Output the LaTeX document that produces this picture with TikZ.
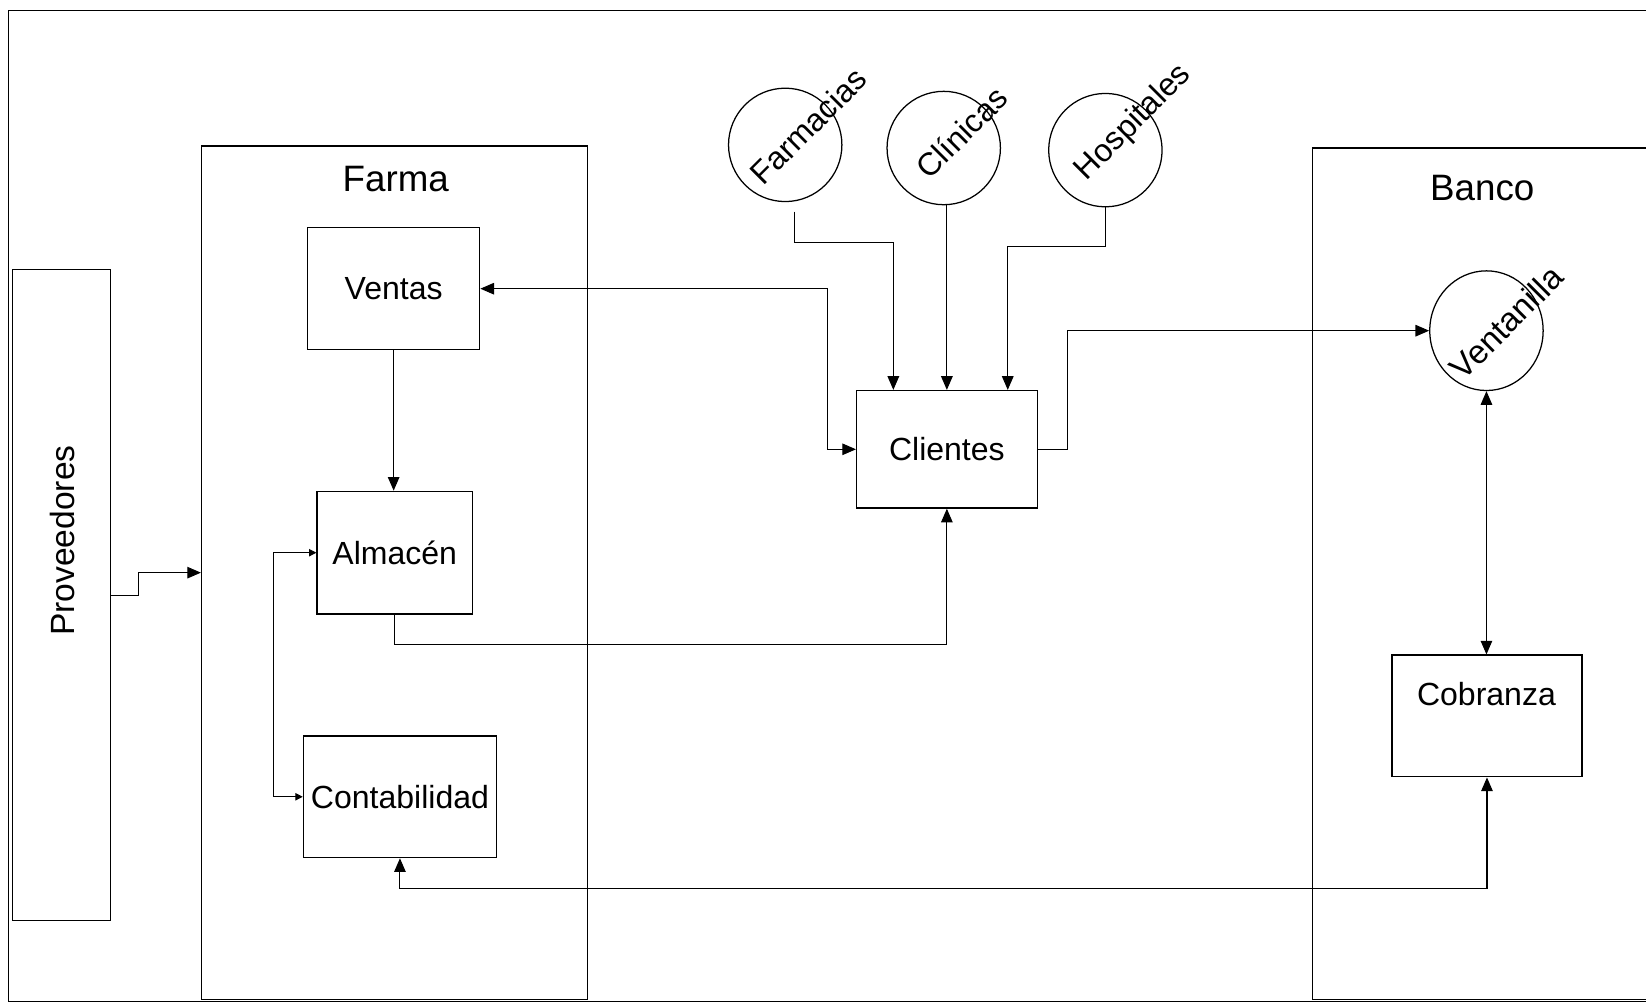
\documentclass[tikz,border=0pt]{standalone}
\usepackage{fontspec}
\setmainfont{Liberation Sans}
\usetikzlibrary{arrows.meta,shapes.geometric}
\begin{document}
\begin{tikzpicture}[x=0.5pt,y=-0.5pt,
  box/.style={draw, line width=0.6pt, inner sep=0pt, rectangle},
  circ/.style={draw, line width=0.6pt, circle, inner sep=0pt, minimum size=54pt},
  lbl/.style={font=\fontsize{15.25}{18}\selectfont, inner sep=0pt},
  big/.style={font=\fontsize{17.5}{20}\selectfont, inner sep=0pt},
  rot/.style={font=\fontsize{15.2}{18}\selectfont, inner sep=0pt, rotate=45},
  conn/.style={line width=0.5pt},
  arr/.style={conn, -{Triangle[length=6.5pt,width=5.5pt]}},
  arrboth/.style={conn, {Triangle[length=6.5pt,width=5.5pt]}-{Triangle[length=6.5pt,width=5.5pt]}},
  arrsmall/.style={conn, {Triangle[length=3.5pt,width=3.5pt]}-{Triangle[length=3.5pt,width=3.5pt]}}
]
\useasboundingbox (0,0) rectangle (1568,955);
\clip (0,0) rectangle (1568,955);
\fill[white] (0,0) rectangle (1568,955);

% outer frame
\draw[line width=0.7pt] (1600,10) -- (8,10) -- (8,954) -- (1600,954);

% big containers
\node[box, minimum width=46.5pt, minimum height=310pt] (prov) at (58.5,567) {};
\node[lbl, font=\fontsize{16}{19}\selectfont, rotate=90] (provtxt) at (60,515) {Proveedores};
\node[box, minimum width=184pt, minimum height=406.5pt] (farma) at (376,545.5) {};
\node[big] (farmatxt) at (377,171) {Farma};
\node[box, minimum width=185pt, minimum height=405.5pt] (banco) at (1435,546.5) {};
\node[big] (bancotxt) at (1412,179) {Banco};

% inner boxes
\node[box, lbl, minimum width=82pt, minimum height=58pt] (ventas) at (375,275) {Ventas};
\node[box, lbl, minimum width=74pt, minimum height=58.5pt] (almacen) at (376,526.5) {Almacén};
\node[box, lbl, minimum width=92pt, minimum height=58pt] (conta) at (381,759) {Contabilidad};
\node[box, lbl, minimum width=86pt, minimum height=56pt] (clientes) at (902,428) {Clientes};
\node[box, minimum width=90.5pt, minimum height=58pt] (cobr) at (1416.5,682) {};
\node[lbl] (cobrtxt) at (1416,661) {Cobranza};

% circles
\node[circ] (farm) at (748,138) {};
\node[circ] (clin) at (899,141) {};
\node[circ] (hosp) at (1053,143) {};
\node[draw, line width=0.6pt, ellipse, inner sep=0pt, minimum width=54pt, minimum height=57pt] (vent) at (1416,315) {};
\node[rot] (farmtxt) at (770,120) {Farmacias};
\node[rot] (clintxt) at (916,126) {Clínicas};
\node[rot] (hosptxt) at (1080,117) {Hospitales};
\node[rot, font=\fontsize{15.8}{19}\selectfont] (venttxt) at (1435,307) {Ventanilla};

% connectors
\draw[arr] (prov.east) -- ++(26,0) |- (farma.west);
\draw[arr] (ventas.south) -- (almacen.north -| ventas.south);
\draw[arrboth] (ventas.east) -| ([xshift=-13.5pt]clientes.west) -- (clientes.west);
\draw[arr] ([xshift=4.5pt,yshift=-4.5pt]farm.south) -- (757,231) -| ([xshift=-25.5pt]clientes.north);
\draw[arr] (clin.south -| clientes.north) -- (clientes.north);
\draw[arr] (hosp.south) -- (1053,235) -| ([xshift=29pt]clientes.north);
\draw[arr] (clientes.east) -- ++(28,0) |- (vent.west);
\draw[arr] (almacen.south) -- ++(0,28) -| (clientes.south);
\draw[arrsmall] (almacen.west) -- ++(-41,0) |- (conta.west);
\draw[arrboth] (vent.south) -- (cobr.north -| vent.south);
\draw[arrboth] (cobr.south) -- ++(0,106) -| (conta.south);
\end{tikzpicture}
\end{document}
